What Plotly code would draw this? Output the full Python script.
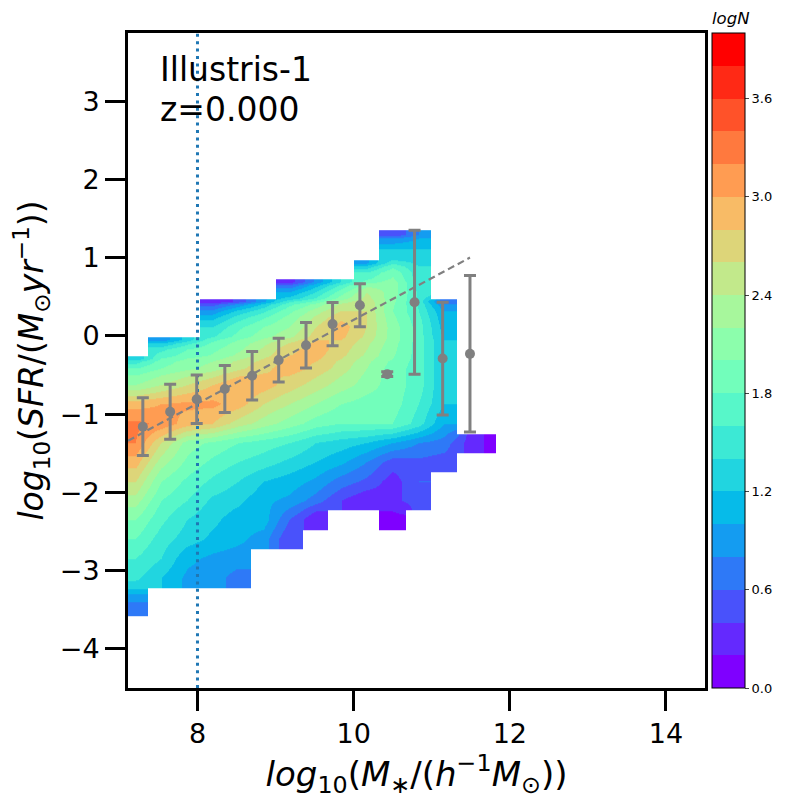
import numpy as np
import plotly.graph_objects as go

n = None

# края ячеек сетки
x_edges = [7.04, 7.365, 7.70, 8.03, 8.35, 8.68, 9.01, 9.35, 9.67, 10.0, 10.33, 10.67, 10.99, 11.32, 11.66, 11.82]
y_edges = [1.35, 1.25, 0.98, 0.89, 0.74, 0.65, 0.484, 0.41, 0.24, 0.0, -0.09, -0.244, -0.33, -0.5, -0.742, -0.985,
           -1.24, -1.483, -1.725, -1.98, -2.22, -2.466, -2.71, -2.964, -3.207, -3.33, -3.577]

# logN, строки сверху вниз
logn = [
    [n, n, n, n, n, n, n, n, n, n, 0.4, 0.8, n, n, n],
    [n, n, n, n, n, n, n, n, n, n, 1.2, 1.2, n, n, n],
    [n, n, n, n, n, n, n, n, n, 0.95, 1.55, 1.35, n, n, n],
    [n, n, n, n, n, n, n, n, n, 1.6, 1.95, 1.45, n, n, n],
    [n, n, n, n, n, n, 0.3, 0.85, 1.4, 1.9, 2.1, 1.5, n, n, n],
    [n, n, n, n, n, n, 1.0, 1.4, 1.9, 2.4, 2.1, 1.55, n, n, n],
    [n, n, n, 0.2, 0.45, 0.95, 1.55, 1.85, 2.3, 2.55, 2.05, 1.55, 0.6, n, n],
    [n, n, n, 0.85, 1.25, 1.55, 1.95, 2.3, 2.6, 2.6, 2.0, 1.6, 1.0, n, n],
    [n, n, n, 1.4, 1.75, 2.0, 2.2, 2.6, 2.9, 2.6, 2.1, 1.7, 1.1, n, n],
    [n, 0.85, 1.3, 1.75, 2.0, 2.25, 2.5, 2.8, 2.8, 2.5, 2.1, 1.7, 1.2, n, n],
    [n, 1.55, 1.8, 1.95, 2.15, 2.45, 2.75, 2.9, 2.7, 2.4, 2.05, 1.7, 1.2, n, n],
    [1.2, 1.8, 2.0, 2.1, 2.35, 2.6, 2.85, 2.85, 2.6, 2.3, 2.0, 1.7, 1.2, n, n],
    [1.8, 2.0, 2.15, 2.3, 2.55, 2.75, 2.9, 2.75, 2.5, 2.2, 1.9, 1.7, 1.2, n, n],
    [2.2, 2.4, 2.6, 2.8, 3.0, 2.9, 2.7, 2.5, 2.3, 2.1, 1.9, 1.7, 1.2, n, n],
    [2.9, 3.0, 3.05, 3.05, 2.9, 2.6, 2.4, 2.2, 2.0, 1.9, 1.9, 1.6, 1.2, n, n],
    [3.25, 3.15, 2.9, 2.8, 2.5, 2.3, 2.1, 1.9, 1.8, 1.8, 1.8, 1.5, 1.0, n, n],
    [3.2, 2.6, 2.1, 1.95, 1.8, 1.7, 1.6, 1.4, 1.3, 1.2, 1.0, 0.8, 0.7, 0.3, 0.1],
    [2.9, 2.3, 1.95, 1.75, 1.6, 1.5, 1.35, 1.2, 1.05, 0.8, 0.5, 0.55, 0.5, n, n],
    [2.6, 2.0, 1.75, 1.55, 1.4, 1.2, 1.1, 0.95, 0.7, 0.55, 0.3, 0.6, n, n, n],
    [2.3, 1.8, 1.6, 1.35, 1.25, 1.05, 0.95, 0.7, 0.4, 0.2, 0.35, 0.5, n, n, n],
    [2.0, 1.65, 1.4, 1.25, 1.1, 1.1, 0.6, 0.2, n, n, 0.1, n, n, n, n],
    [1.8, 1.5, 1.3, 1.15, 1.05, 0.9, 0.4, n, n, n, n, n, n, n, n],
    [1.6, 1.4, 1.05, 0.95, 0.9, n, n, n, n, n, n, n, n, n, n],
    [1.45, 1.2, 0.95, 0.9, 0.7, n, n, n, n, n, n, n, n, n, n],
    [1.1, n, n, n, n, n, n, n, n, n, n, n, n, n, n],
    [0.7, n, n, n, n, n, n, n, n, n, n, n, n, n, n],
]

# медиана и разброс
mass = [7.30, 7.65, 7.99, 8.35, 8.70, 9.04, 9.39, 9.73, 10.08, 10.43, 10.78, 11.14, 11.49]
sfr = [-1.16, -0.97, -0.81, -0.68, -0.51, -0.31, -0.12, 0.15, 0.39, -0.49, 0.43, -0.29, -0.23]
sfr_err = [0.37, 0.35, 0.31, 0.30, 0.31, 0.28, 0.29, 0.275, 0.275, 0.03, 0.92, 0.72, 1.0]

fit_x = [7.11, 11.49]
fit_y = [-1.34, 1.0]

vline_x = [8, 8]
vline_y = [-4.5, 3.87]

levels = 20
zmin, zmax = 0, 4
cbar_ticks = [0.0, 0.6, 1.2, 1.8, 2.4, 3.0, 3.6]


# дискретная шкала rainbow
def rainbow(t):
    r = abs(2 * t - 0.5)
    g = np.sin(np.pi * t)
    b = np.cos(np.pi * t / 2)
    return "rgb(%d,%d,%d)" % (min(r, 1) * 255, g * 255, b * 255)


colorscale = []
for i in range(levels):
    c = rainbow(i / (levels - 1))
    colorscale.append([i / levels, c])
    colorscale.append([(i + 1) / levels, c])

fig = go.Figure()

fig.add_trace(go.Heatmap(
    x=x_edges,
    y=y_edges[::-1],
    z=logn[::-1],
    zmin=zmin,
    zmax=zmax,
    zsmooth="best",
    colorscale=colorscale,
    hoverongaps=False,
    colorbar=dict(
        x=1.012,
        xanchor="left",
        xpad=0,
        ypad=0,
        y=0.5,
        len=1,
        thickness=33,
        outlinewidth=1,
        outlinecolor="black",
        tickvals=cbar_ticks,
        tickformat=".1f",
        ticks="outside",
        ticklen=4,
        tickwidth=1,
        tickfont=dict(family="DejaVu Sans", size=13, color="black"),
    ),
))

fig.add_trace(go.Scatter(
    x=vline_x, y=vline_y, mode="lines",
    line=dict(color="#1f77b4", width=3, dash="3px,4.4px"),
    showlegend=False,
))

fig.add_trace(go.Scatter(
    x=fit_x, y=fit_y, mode="lines",
    line=dict(color="gray", width=2.2, dash="7px,4px"),
    showlegend=False,
))

fig.add_trace(go.Scatter(
    x=mass, y=sfr, mode="markers",
    marker=dict(color="gray", size=10),
    error_y=dict(type="data", array=sfr_err, color="gray", thickness=3, width=6),
    showlegend=False,
))

# страница сдвигает фигуру на 8px, поэтому размер 792
fig.update_layout(
    width=792,
    height=792,
    autosize=False,
    margin=dict(l=120, r=95, t=25, b=112),
    plot_bgcolor="white",
    paper_bgcolor="white",
    font=dict(family="DejaVu Sans", color="black"),
    showlegend=False,
)

# подписи внутри графика, координаты в долях области
plot_w, plot_h = 577, 655
fig.layout.annotations = [
    dict(text="Illustris-1", x=(158 - 128) / plot_w, y=1 - (69 - 33) / plot_h, xref="paper", yref="paper",
         xanchor="left", yanchor="middle", showarrow=False, font=dict(size=33)),
    dict(text="z=0.000", x=(158 - 128) / plot_w, y=1 - (109 - 33) / plot_h, xref="paper", yref="paper",
         xanchor="left", yanchor="middle", showarrow=False, font=dict(size=33)),
    dict(text="<i>logN</i>", x=(731 - 128) / plot_w, y=1 - (19 - 33) / plot_h, xref="paper", yref="paper",
         xanchor="center", yanchor="middle", showarrow=False, font=dict(size=16.5)),
]

fig.update_xaxes(
    range=[7.11, 14.5],
    tickvals=[8, 10, 12, 14],
    ticks="outside",
    ticklen=20,
    tickwidth=2.5,
    tickcolor="black",
    tickfont=dict(size=27),
    showline=True,
    linecolor="black",
    linewidth=3,
    mirror=True,
    showgrid=False,
    zeroline=False,
    title=dict(
        text="<i>log</i><sub>10</sub>(<i>M</i><sub>∗</sub>/(<i>h</i><sup>−1</sup><i>M</i><sub>⊙</sub>))",
        font=dict(size=34),
        standoff=6,
    ),
)
fig.update_yaxes(
    range=[-4.5, 3.87],
    tickvals=[-4, -3, -2, -1, 0, 1, 2, 3],
    ticks="outside",
    ticklen=20,
    tickwidth=2.5,
    tickcolor="black",
    tickfont=dict(size=27),
    showline=True,
    linecolor="black",
    linewidth=3,
    mirror=True,
    showgrid=False,
    zeroline=False,
    title=dict(
        text="<i>log</i><sub>10</sub>(<i>SFR</i>/(<i>M</i><sub>⊙</sub><i>yr</i><sup>−1</sup>))",
        font=dict(size=33),
        standoff=8,
    ),
)

fig.write_html("out.html")
